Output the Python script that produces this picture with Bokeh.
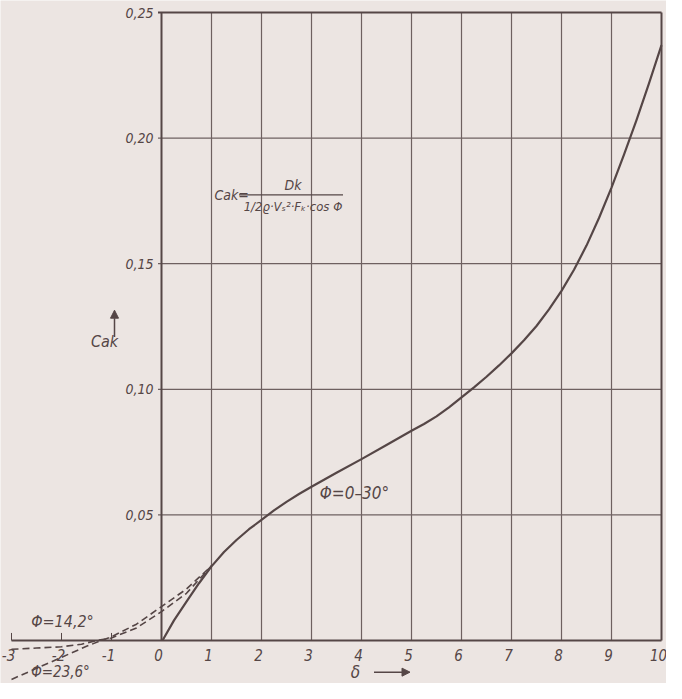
from bokeh.plotting import figure
from bokeh.models import Range1d, Arrow, NormalHead
from bokeh.core.properties import value
from bokeh.embed import file_html
from bokeh.resources import INLINE

# ---------------- data ----------------
x_ticks = [-3, -2, -1, 0, 1, 2, 3, 4, 5, 6, 7, 8, 9, 10]
x_tick_labels = ["-3", "-2", "-1", "0", "1", "2", "3", "4", "5", "6", "7", "8", "9", "10"]
y_ticks = [0.05, 0.10, 0.15, 0.20, 0.25]
y_tick_labels = ["0,05", "0,10", "0,15", "0,20", "0,25"]
grid_x = [0, 1, 2, 3, 4, 5, 6, 7, 8, 9, 10]
baseline_x = [-3.0, 10.0]
minor_ticks_x = [-3, -2, -1]

# Phi = 0-30 deg (solid)
main_x = [0.02, 0.25, 0.5, 0.75, 1.0, 1.25, 1.5, 1.75, 2.0, 2.25, 2.5, 2.75, 3.0,
          3.5, 4.0, 4.5, 5.0, 5.25, 5.5, 5.75, 6.0, 6.25, 6.5, 6.75, 7.0, 7.25, 7.5,
          7.75, 8.0, 8.25, 8.5, 8.75, 9.0, 9.25, 9.5, 9.75, 10.0]
main_y = [0.0, 0.0080, 0.0155, 0.0228, 0.0295, 0.0352, 0.0400, 0.0443, 0.0480,
          0.0518, 0.0552, 0.0583, 0.0612, 0.0668, 0.0722, 0.0778, 0.0835, 0.0862,
          0.0892, 0.0928, 0.0968, 0.1008, 0.1050, 0.1095, 0.1143, 0.1195, 0.1252,
          0.1318, 0.1392, 0.1476, 0.1572, 0.1682, 0.1803, 0.1934, 0.2072, 0.2218, 0.2370]

# Phi = 14.2 deg (dashed)
phi14_x = [-3.0, -2.5, -2.0, -1.6, -1.3, -1.0, -0.5, 0.0, 0.5, 1.0]
phi14_y = [-0.0035, -0.0030, -0.0025, -0.0015, 0.0, 0.0010, 0.0050, 0.0115, 0.0188, 0.0297]

# Phi = 23.6 deg (dashed)
phi23_x = [-3.0, -2.5, -2.0, -1.5, -1.2, -1.0, -0.5, 0.0, 0.5, 1.0]
phi23_y = [-0.0155, -0.0111, -0.0067, -0.0023, 0.0, 0.0015, 0.0065, 0.0135, 0.0205, 0.0297]

# ---------------- style ----------------
PAPER = "#ece5e2"
INK = "#554646"
GRID = "#6e6060"
FONT = "Liberation Sans Narrow, DejaVu Sans Condensed, Liberation Sans, DejaVu Sans"

W, H = 666, 683
PX_X, PX_Y = 50.0, 2512.0
X0_FIG, Y0_FIG = 161.0, 640.0

p = figure(width=W, height=H,
           x_range=Range1d(-X0_FIG / PX_X, (W - X0_FIG) / PX_X),
           y_range=Range1d(-(H - Y0_FIG) / PX_Y, Y0_FIG / PX_Y),
           output_backend="svg", toolbar_location=None,
           x_axis_location=None, y_axis_location=None,
           min_border=0, background_fill_color=PAPER, border_fill_color=PAPER,
           outline_line_color=None)
p.grid.visible = False

ytop = y_ticks[-1]
xl, xr = grid_x[0], grid_x[-1]

# inner grid
inner_x = grid_x[1:-1]
p.segment(x0=inner_x, y0=[0] * len(inner_x), x1=inner_x, y1=[ytop] * len(inner_x),
          line_color=GRID, line_width=1.2)
inner_y = y_ticks[:-1]
p.segment(x0=[xl - 0.07] * len(inner_y), y0=inner_y, x1=[xr] * len(inner_y), y1=inner_y,
          line_color=GRID, line_width=1.2)

# frame
p.segment(x0=[xl, xr], y0=[0, 0], x1=[xl, xr], y1=[ytop, ytop], line_color=INK, line_width=2)
p.segment(x0=[xl - 0.07], y0=[ytop], x1=[xr], y1=[ytop], line_color=INK, line_width=2)
p.segment(x0=[baseline_x[0]], y0=[0], x1=[baseline_x[1]], y1=[0], line_color=INK, line_width=2)
p.segment(x0=minor_ticks_x, y0=[0] * 3, x1=minor_ticks_x, y1=[0.003] * 3, line_color=INK, line_width=1)

# curves
p.line(phi14_x, phi14_y, line_color=INK, line_width=1.6, line_dash="7 4")
p.line(phi23_x, phi23_y, line_color=INK, line_width=1.6, line_dash="7 4")
p.line(main_x, main_y, line_color=INK, line_width=2.2, line_join="round")

common = dict(text_font=value(FONT), text_font_style="italic", text_color=INK)

# tick labels
p.text(x=x_ticks, y=[0] * len(x_ticks), text=x_tick_labels, text_align="center",
       text_baseline="middle", y_offset=14, x_offset=-3, text_font_size="15px", **common)
p.text(x=[0] * len(y_ticks), y=y_ticks, text=y_tick_labels, text_align="right",
       text_baseline="middle", x_offset=-8, text_font_size="14px", **common)

# curve labels
p.text(x=[3.86], y=[0.0588], text=["Φ=0–30°"], text_align="center", text_baseline="middle",
       text_font_size="17px", **common)
p.text(x=[-1.98], y=[0.0075], text=["Φ=14,2°"], text_align="center", text_baseline="middle",
       text_font_size="16px", **common)
p.text(x=[-2.02], y=[-0.0126], text=["Φ=23,6°"], text_align="center", text_baseline="middle",
       text_font_size="15px", **common)

# axis names
p.text(x=[-1.14], y=[0.1190], text=["Cak"], text_align="center", text_baseline="middle",
       text_font_size="16px", **common)
p.add_layout(Arrow(end=NormalHead(size=8, fill_color=INK, line_color=INK),
                   x_start=-0.94, y_start=0.1208, x_end=-0.94, y_end=0.1315,
                   line_color=INK, line_width=1.5))
p.text(x=[3.88], y=[-0.0126], text=["δ"], text_align="center", text_baseline="middle",
       text_font_size="17px", **common)
p.add_layout(Arrow(end=NormalHead(size=8, fill_color=INK, line_color=INK),
                   x_start=4.25, y_start=-0.0126, x_end=4.97, y_end=-0.0126,
                   line_color=INK, line_width=1.5))

# formula
p.text(x=[1.06], y=[0.1775], text=["Cak="], text_align="left", text_baseline="middle",
       text_font_size="14px", **common)
p.text(x=[2.63], y=[0.1815], text=["Dk"], text_align="center", text_baseline="middle",
       text_font_size="14px", **common)
p.segment(x0=[1.55], y0=[0.1774], x1=[3.63], y1=[0.1774], line_color=INK, line_width=1.2)
p.text(x=[2.63], y=[0.1727], text=["1/2ϱ·Vₛ²·Fₖ·cos Φ"], text_align="center",
       text_baseline="middle", text_font_size="13px", **common)

open("out.html", "w").write(file_html(p, INLINE))
